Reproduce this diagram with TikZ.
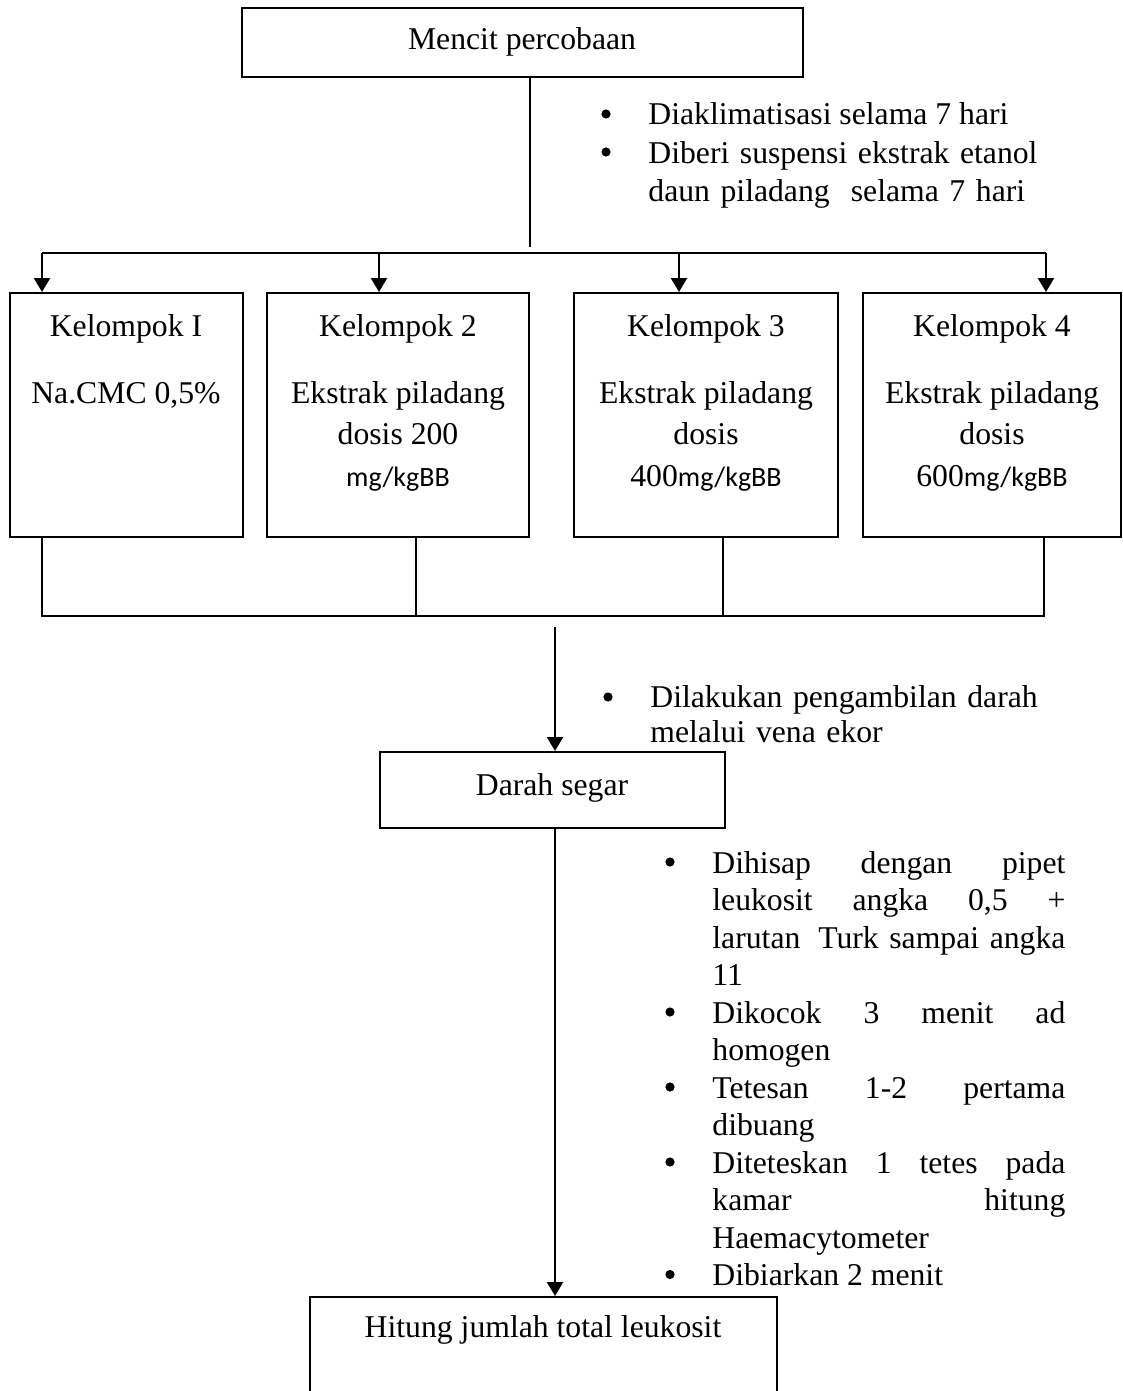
\documentclass[tikz,border=0pt]{standalone}
\usepackage{fontspec}
\setmainfont{Liberation Serif}
\newfontfamily\calibri{Carlito}
\usetikzlibrary{arrows.meta,fit}
\newcommand\topstrut{\rule{0pt}{12pt}}
\newcommand\jline[1]{\leavevmode\hbox to 176.5pt{#1}}
\begin{document}
\begin{tikzpicture}[x=0.5pt,y=-0.5pt,
  box/.style={draw, line width=1pt, inner sep=0pt},
  conn/.style={line width=1pt},
  arr/.style={line width=1.2pt, -{Triangle[width=8pt,length=7pt]}},
  txt/.style={inner sep=0pt, font=\fontsize{15.85}{20.75}\selectfont},
  grp/.style={txt, align=center, anchor=north},
  bul/.style={circle, fill, inner sep=0pt, minimum size=4.6pt},
  item/.style={inner sep=0pt, anchor=north west, align=left, text width=#1,
    font=\fontsize{15.85}{18.75}\selectfont},
  item/.default=190pt]
\path[use as bounding box, clip] (0,0) rectangle (1123,1391);

% boxes
\node[box, fit={(242,8) (803,77)}] (top) {};
\node[box, fit={(10,293) (243,537)}] (k1) {};
\node[box, fit={(267,293) (529,537)}] (k2) {};
\node[box, fit={(574,293) (838,537)}] (k3) {};
\node[box, fit={(863,293) (1121,537)}] (k4) {};
\node[box, fit={(380,752) (725,828)}] (darah) {};
\node[box, fit={(310,1297) (777,1460)}] (hitung) {};

% box texts
\node[txt, anchor=base] (ttop) at (522,50) {Mencit percobaan};
\node[grp] (tk1) at (126,312) {\topstrut Kelompok I\\[12.75pt]Na.CMC 0,5\%};
\node[grp] (tk2) at (398,312) {\topstrut Kelompok 2\\[12.75pt]Ekstrak piladang\\dosis 200\\{\calibri\fontsize{14}{20.75}\selectfont mg/kgBB}};
\node[grp] (tk3) at (706,312) {\topstrut Kelompok 3\\[12.75pt]Ekstrak piladang\\dosis\\400{\calibri\fontsize{14}{20.75}\selectfont mg/kgBB}};
\node[grp] (tk4) at (992,312) {\topstrut Kelompok 4\\[12.75pt]Ekstrak piladang\\dosis\\600{\calibri\fontsize{14}{20.75}\selectfont mg/kgBB}};
\node[txt, anchor=base] (tdarah) at (552,795) {Darah segar};
\node[txt, anchor=base] (thitung) at (543,1337) {Hitung jumlah total leukosit};

% connectors: top to groups
\coordinate (s0) at (530,247);
\draw[conn] (top.south -| s0) -- (s0);
\coordinate (a1) at (42,253);
\coordinate (a2) at (379,253);
\coordinate (a3) at (679,253);
\coordinate (a4) at (1046,253);
\draw[conn] (a1) -- (a4);
\draw[arr] (a1) -- (a1 |- k1.north);
\draw[arr] (a2) -- (a2 |- k2.north);
\draw[arr] (a3) -- (a3 |- k3.north);
\draw[arr] (a4) -- (a4 |- k4.north);

% groups to join line
\coordinate (j1) at (42,616);
\coordinate (j2) at (416,616);
\coordinate (j3) at (723,616);
\coordinate (j4) at (1044,616);
\draw[conn] (j1 |- k1.south) -- (j1) -- (j4) -- (j4 |- k4.south);
\draw[conn] (j2 |- k2.south) -- (j2);
\draw[conn] (j3 |- k3.south) -- (j3);

% to darah and hitung
\coordinate (d0) at (555,627);
\draw[arr] (d0) -- (d0 |- darah.north);
\draw[arr] (darah.south -| d0) -- (d0 |- hitung.north);

% bullets: top
\node[bul] (b1) at (606,114) {};
\node[txt, anchor=base west] (i1) at (648,125) {Diaklimatisasi selama 7 hari};
\node[bul] (b2) at (606,152) {};
\node[item=200pt, font=\fontsize{15.85}{19}\selectfont] (i2) at (648,139) {\topstrut Diberi suspensi ekstrak etanol\\daun piladang\ \ selama 7 hari};

% bullets: middle
\node[bul] (b3) at (608,697) {};
\node[item=200pt, font=\fontsize{15.85}{17.5}\selectfont] (i3) at (650,683) {\topstrut Dilakukan pengambilan darah\\melalui vena ekor};

% bullets: bottom
\node[bul] (b4) at (670,862) {};
\node[item] (i4) at (712,849) {\topstrut\jline{Dihisap\hfill dengan\hfill pipet}\\\jline{leukosit\hfill angka\hfill 0,5\hfill +}\\\jline{larutan\hfill Turk sampai angka}\\11};
\node[bul] (b5) at (670,1012) {};
\node[item] (i5) at (712,999) {\topstrut\jline{Dikocok\hfill 3\hfill menit\hfill ad}\\homogen};
\node[bul] (b6) at (670,1087) {};
\node[item] (i6) at (712,1074) {\topstrut\jline{Tetesan\hfill 1-2\hfill pertama}\\dibuang};
\node[bul] (b7) at (670,1162) {};
\node[item] (i7) at (712,1149) {\topstrut\jline{Diteteskan\hfill 1\hfill tetes\hfill pada}\\\jline{kamar\hfill hitung}\\Haemacytometer};
\node[bul] (b8) at (670,1274.5) {};
\node[txt, anchor=base west] (i8) at (712,1285.5) {Dibiarkan 2 menit};
\end{tikzpicture}
\end{document}
